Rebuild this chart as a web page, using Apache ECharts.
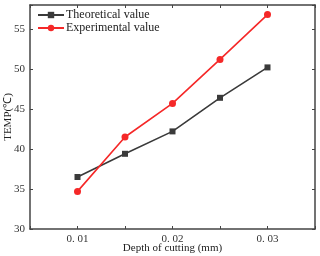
<!DOCTYPE html>
<html><head><meta charset="utf-8">
<script src="https://cdn.jsdelivr.net/npm/echarts@6/dist/echarts.min.js"></script>
<style>html,body{margin:0;padding:0;background:#fff}#c{width:320px;height:256px}</style>
</head><body><div id="c"></div>
<script>
var depths = [0.01, 0.015, 0.02, 0.025, 0.03];
var theoretical = [36.5, 39.4, 42.2, 46.4, 50.2];
var experimental = [34.7, 41.5, 45.7, 51.2, 56.8];
var seriesNames = ['Theoretical value', 'Experimental value'];
var xName = 'Depth of cutting (mm)';
var yName = 'TEMP(\u2103)';

var font = 'Liberation Serif';
function pairs(vals){ return depths.map(function(d,i){ return [d, vals[i]]; }); }
var axisLine = {show:true, lineStyle:{color:'#444', width:1.5}};
var chart = echarts.init(document.getElementById('c'));
chart.setOption({
  animation:false,
  grid:{left:30, right:5, top:5, bottom:27, containLabel:false, outerBoundsMode:'none'},
  legend:{
    left:32, top:4, orient:'vertical', itemGap:1, itemWidth:26, itemHeight:8,
    textStyle:{fontFamily:font, fontSize:12, color:'#222', padding:[0,0,0,-3]},
    data:seriesNames
  },
  xAxis:[{
    type:'value', min:0.005, max:0.035, interval:0.005,
    axisLine:axisLine,
    axisTick:{show:true, inside:true, length:3, lineStyle:{color:'#444'}},
    splitLine:{show:false},
    axisLabel:{fontFamily:font, fontSize:11, color:'#333', margin:5,
      formatter:function(v){ var k=Math.round(v*1000); return (k%10===0)? v.toFixed(2).replace('.', '. ') : ''; }},
    name:xName, nameLocation:'middle', nameGap:14, nameMoveOverlap:false,
    nameTextStyle:{fontFamily:font, fontSize:11, color:'#222'}
  },{
    type:'value', position:'top', min:0.005, max:0.035, interval:0.005,
    axisLine:axisLine,
    axisTick:{show:true, inside:true, length:3, lineStyle:{color:'#444'}},
    axisLabel:{show:false}, splitLine:{show:false}
  }],
  yAxis:[{
    type:'value', min:30, max:58, interval:5,
    axisLine:axisLine,
    axisTick:{show:true, inside:true, length:3, lineStyle:{color:'#444'}},
    splitLine:{show:false},
    axisLabel:{fontFamily:font, fontSize:11, color:'#333', margin:5,
      formatter:function(v){ return (v%5===0)? String(v) : ''; }},
    name:yName, nameLocation:'middle', nameGap:16, nameMoveOverlap:false,
    nameTextStyle:{fontFamily:font, fontSize:11, color:'#222'}
  },{
    type:'value', position:'right', min:30, max:58, interval:5,
    axisLine:axisLine,
    axisTick:{show:true, inside:true, length:3, lineStyle:{color:'#444'}},
    axisLabel:{show:false}, splitLine:{show:false}
  }],
  series:[{
    name:seriesNames[0], type:'line', data:pairs(theoretical),
    symbol:'rect', symbolSize:6,
    lineStyle:{color:'#3a3a3a', width:1.6},
    itemStyle:{color:'#3a3a3a'}
  },{
    name:seriesNames[1], type:'line', data:pairs(experimental),
    symbol:'circle', symbolSize:7,
    lineStyle:{color:'#f52828', width:1.6},
    itemStyle:{color:'#f52828'}
  }]
});
</script></body></html>
